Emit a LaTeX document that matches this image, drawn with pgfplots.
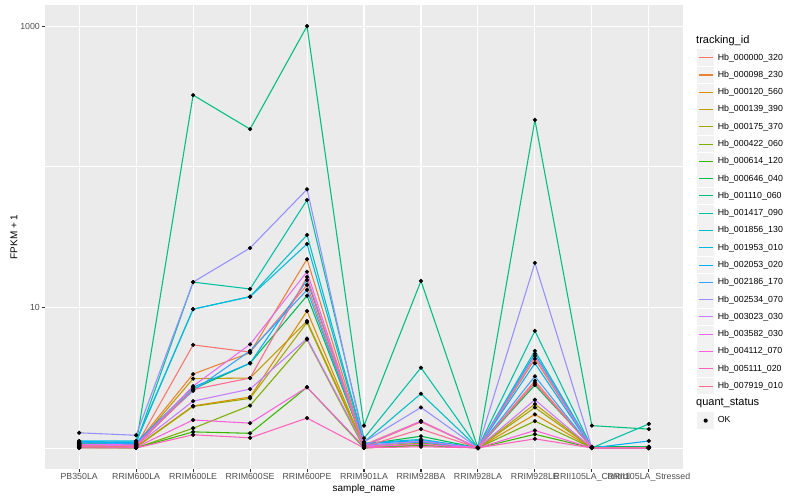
\documentclass[border=0pt]{standalone}
\usepackage{pgfplots}
\pgfplotsset{compat=1.18}
\usepackage{pgfplotstable}
\usepackage{fontspec}
\setmainfont{Liberation Sans}

% ggplot2 hue palette, 20 levels
\definecolor{c1}{HTML}{F8766D}
\definecolor{c2}{HTML}{EA8331}
\definecolor{c3}{HTML}{D89000}
\definecolor{c4}{HTML}{C09B00}
\definecolor{c5}{HTML}{A3A500}
\definecolor{c6}{HTML}{7CAE00}
\definecolor{c7}{HTML}{39B600}
\definecolor{c8}{HTML}{00BB4E}
\definecolor{c9}{HTML}{00BF7D}
\definecolor{c10}{HTML}{00C1A3}
\definecolor{c11}{HTML}{00BFC4}
\definecolor{c12}{HTML}{00BAE0}
\definecolor{c13}{HTML}{00B0F6}
\definecolor{c14}{HTML}{35A2FF}
\definecolor{c15}{HTML}{9590FF}
\definecolor{c16}{HTML}{C77CFF}
\definecolor{c17}{HTML}{E76BF3}
\definecolor{c18}{HTML}{FA62DB}
\definecolor{c19}{HTML}{FF62BC}
\definecolor{c20}{HTML}{FF6C91}
\definecolor{panelbg}{HTML}{EBEBEB}
\definecolor{keybg}{HTML}{F2F2F2}
\definecolor{gray20}{HTML}{333333}
\definecolor{gray30}{HTML}{4D4D4D}

% FPKM + 1 per sample (x = sample index)
\pgfplotstableread{
x  s1   s2   s3   s4   s5   s6   s7   s8   s9   s10  s11  s12  s13  s14  s15  s16  s17  s18  s19  s20
0  1.02 1.05 1.04 1.06 1.03 1.01 1.00 1.07 1.08 1.10 1.09 1.12 1.11 1.09 1.28 1.05 1.06 1.02 1.00 1.03
1  1.03 1.06 1.02 1.04 1.01 1.00 1.00 1.05 1.06 1.08 1.10 1.12 1.09 1.07 1.23 1.04 1.05 1.01 1.00 1.03
2  5.4  3.35 1.99 3.11 1.97 1.38 1.30 2.62 323  15.1 9.7  9.7  2.7  2.55 15.1 2.15 2.75 1.58 1.24 2.6
3  4.8  4.75 2.3  3.14 2.25 2.0  1.27 4.0  185  13.5 11.9 11.9 4.0  4.9  26.4 2.62 5.45 1.5  1.18 3.14
4  14.4 22   9.4  7.98 7.8  5.9  2.7  12.1 1000 58   32.7 28.2 15.6 13.3 69   6.0  17.9 2.7  1.63 16.4
5  1.03 1.05 1.02 1.04 1.01 1.00 1.00 1.06 1.44 1.17 1.10 1.08 1.07 1.05 1.10 1.03 1.04 1.02 1.00 1.02
6  1.53 1.55 1.12 1.10 1.08 1.05 1.04 1.21 15.4 3.72 2.43 1.15 1.13 1.10 1.94 1.12 1.55 1.06 1.02 1.36
7  1.0  1.0  1.0  1.0  1.0  1.0  1.0  1.0  1.0  1.0  1.0  1.0  1.0  1.0  1.0  1.0  1.0  1.0  1.0  1.0
8  3.0  4.3  1.73 2.05 1.94 1.55 1.25 2.8  215  6.8  4.9  4.67 4.0  3.23 20.7 2.2  4.5  1.33 1.16 2.9
9  1.0  1.01 1.0  1.0  1.0  1.0  1.0  1.02 1.44 1.0  1.01 1.0  1.0  1.0  1.0  1.0  1.0  1.0  1.0  1.0
10 1.0  1.0  1.01 1.0  1.0  1.0  1.0  1.02 1.36 1.48 1.01 1.0  1.12 1.0  1.0  1.0  1.0  1.0  1.0  1.0
}\fpkm

\begin{document}
\begin{tikzpicture}
\path[use as bounding box] (0bp,0bp) rectangle (800bp,500bp);
\begin{axis}[
    at={(45bp,31bp)}, anchor=south west,
    scale only axis, width=638bp, height=464bp,
    clip=false,
    xmin=-0.6, xmax=10.6,
    ymode=log, ymin=0.7079, ymax=1412.5,
    axis background/.style={fill=panelbg},
    axis line style={draw=none},
    tick pos=left, tick align=outside,
    major tick length=2.75bp, minor tick length=0pt,
    tick style={color=gray20, line width=1.07bp},
    grid=both,
    major grid style={white, line width=1.07bp},
    minor grid style={white, line width=0.53bp},
    xtick={0,...,10}, minor xtick={},
    xticklabels={PB350LA, RRIM600LA, RRIM600LE, RRIM600SE, RRIM600PE, RRIM901LA, RRIM928BA, RRIM928LA, RRIM928LE, RRII105LA\_Control, RRII105LA\_Stressed},
    ytick={10,1000}, minor ytick={1,100},
    yticklabels={10,1000},
    ticklabel style={font=\fontsize{8.8bp}{10bp}\selectfont, text=gray30, inner sep=0pt},
    xticklabel style={yshift=-1.5bp},
    yticklabel style={xshift=-2.2bp},
    /pgf/number format/assume math mode=true,
    xlabel={sample\_name}, ylabel={FPKM + 1},
    label style={font=\fontsize{11bp}{13bp}\selectfont, inner sep=0pt},
    every axis x label/.style={at={(axis description cs:0.5,-0.0431)}, anchor=center},
    every axis y label/.style={at={(axis description cs:-0.0486,0.5)}, anchor=center, rotate=90},
    legend style={at={(1.022,0.905)}, anchor=north west, draw=none, fill=none,
        inner sep=0pt, outer sep=0pt, row sep=0pt,
        font=\fontsize{8.8bp}{10bp}\selectfont, nodes={inner sep=0pt},
        /tikz/every odd column/.append style={column sep=3.5bp}},
    legend cell align=left,
    legend image code/.code={
        \path[draw=none, fill=none] (0bp,-8.64bp) rectangle (17.28bp,8.64bp);
        \fill[keybg, draw=none] (0.3bp,-8.34bp) rectangle (16.98bp,8.34bp);
        \draw[#1, line width=1.07bp] (1.7bp,0bp) -- (15.6bp,0bp);},
    every axis plot/.append style={line width=1.07bp},
]
\addplot[c1, no marks] table[x=x, y=s1]{\fpkm}; \addlegendentry{Hb\_000000\_320}
\addplot[c2, no marks] table[x=x, y=s2]{\fpkm}; \addlegendentry{Hb\_000098\_230}
\addplot[c3, no marks] table[x=x, y=s3]{\fpkm}; \addlegendentry{Hb\_000120\_560}
\addplot[c4, no marks] table[x=x, y=s4]{\fpkm}; \addlegendentry{Hb\_000139\_390}
\addplot[c5, no marks] table[x=x, y=s5]{\fpkm}; \addlegendentry{Hb\_000175\_370}
\addplot[c6, no marks] table[x=x, y=s6]{\fpkm}; \addlegendentry{Hb\_000422\_060}
\addplot[c7, no marks] table[x=x, y=s7]{\fpkm}; \addlegendentry{Hb\_000614\_120}
\addplot[c8, no marks] table[x=x, y=s8]{\fpkm}; \addlegendentry{Hb\_000646\_040}
\addplot[c9, no marks] table[x=x, y=s9]{\fpkm}; \addlegendentry{Hb\_001110\_060}
\addplot[c10, no marks] table[x=x, y=s10]{\fpkm}; \addlegendentry{Hb\_001417\_090}
\addplot[c11, no marks] table[x=x, y=s11]{\fpkm}; \addlegendentry{Hb\_001856\_130}
\addplot[c12, no marks] table[x=x, y=s12]{\fpkm}; \addlegendentry{Hb\_001953\_010}
\addplot[c13, no marks] table[x=x, y=s13]{\fpkm}; \addlegendentry{Hb\_002053\_020}
\addplot[c14, no marks] table[x=x, y=s14]{\fpkm}; \addlegendentry{Hb\_002186\_170}
\addplot[c15, no marks] table[x=x, y=s15]{\fpkm}; \addlegendentry{Hb\_002534\_070}
\addplot[c16, no marks] table[x=x, y=s16]{\fpkm}; \addlegendentry{Hb\_003023\_030}
\addplot[c17, no marks] table[x=x, y=s17]{\fpkm}; \addlegendentry{Hb\_003582\_030}
\addplot[c18, no marks] table[x=x, y=s18]{\fpkm}; \addlegendentry{Hb\_004112\_070}
\addplot[c19, no marks] table[x=x, y=s19]{\fpkm}; \addlegendentry{Hb\_005111\_020}
\addplot[c20, no marks] table[x=x, y=s20]{\fpkm}; \addlegendentry{Hb\_007919\_010}
% points on top of all lines
\pgfplotsinvokeforeach{1,...,20}{
  \addplot[only marks, mark=*, mark size=1.9bp, black, line width=0.4bp, forget plot] table[x=x, y=s#1]{\fpkm};
}
% spacer row (holds the quant_status title) and the quant_status key
\addlegendimage{legend image code/.code={\path[draw=none, fill=none] (0bp,-8.64bp) rectangle (17.28bp,8.64bp);}}
\addlegendentry{\mbox{}}
\addlegendimage{legend image code/.code={
    \path[draw=none, fill=none] (0bp,-8.64bp) rectangle (17.28bp,8.64bp);
    \fill[keybg, draw=none] (0.3bp,-8.34bp) rectangle (16.98bp,8.34bp);
    \fill[black, draw=none] (8.64bp,0bp) circle (2.1bp);}}
\addlegendentry{OK}
\end{axis}
\node[anchor=west, inner sep=0pt, font=\fontsize{11bp}{13bp}\selectfont] at (696bp,459.3bp) {tracking\_id};
\node[anchor=west, inner sep=0pt, font=\fontsize{11bp}{13bp}\selectfont] at (696bp,96.7bp) {quant\_status};
\end{tikzpicture}
\end{document}
